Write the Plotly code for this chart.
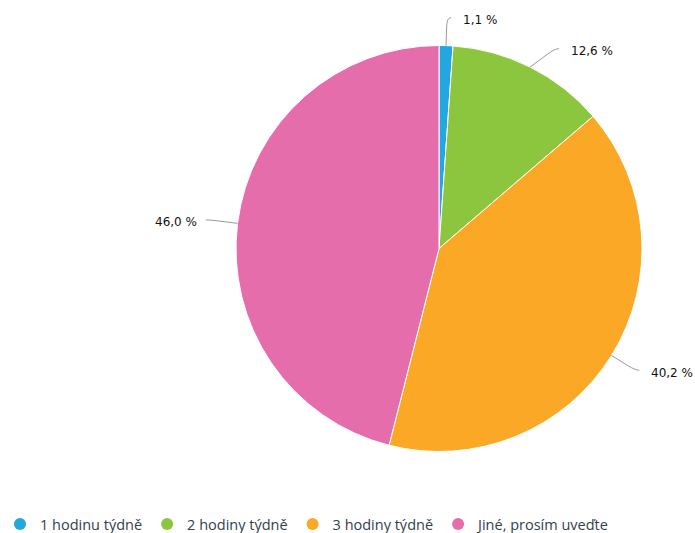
import math
import plotly.graph_objects as go

categories = ["1 hodinu týdně", "2 hodiny týdně", "3 hodiny týdně", "Jiné, prosím uveďte"]
values = [1.1, 12.6, 40.2, 46.0]
colors = ["#23a7e0", "#8cc63f", "#faa825", "#e56dab"]

W, H = 695, 533
MB = 34  # bottom margin reserved for the legend
cx, cy, r = 439.0, 248.5, 203.0
label_dist = 28.0
min_gap = 31.0

def px(x):
    return x / W

def py(y):
    return 1 - y / (H - MB)

fig = go.Figure()
fig.add_trace(go.Pie(
    labels=categories, values=values, sort=False, direction="clockwise", rotation=0,
    marker=dict(colors=colors, line=dict(color="#ffffff", width=1)),
    textinfo="none", hoverinfo="label+percent", showlegend=False,
    domain=dict(x=[px(cx - r), px(cx + r)], y=[py(cy + r), py(cy - r)]),
))

for name, col in zip(categories, colors):
    fig.add_trace(go.Scatter(x=[None], y=[None], mode="markers", name=name,
                             marker=dict(color=col, size=12, symbol="circle")))

total = sum(values)
info = []
cum = 0.0
for v in values:
    th = 2 * math.pi * (cum + v / 2) / total
    cum += v
    ex, ey = cx + r * math.sin(th), cy - r * math.cos(th)
    R = r + label_dist
    ly = cy - R * math.cos(th)
    side = 1 if math.sin(th) >= 0 else -1
    info.append(dict(v=v, th=th, ex=ex, ey=ey, ly=ly, side=side))

for side in (1, -1):
    items = sorted([d for d in info if d["side"] == side], key=lambda d: d["ly"])
    prev = None
    for d in items:
        if prev is not None and d["ly"] < prev + min_gap:
            d["ly"] = prev + min_gap
        prev = d["ly"]

shapes, annotations = [], []
R = r + label_dist
for d in info:
    dy = d["ly"] - cy
    dx = math.sqrt(max(R * R - dy * dy, 0))
    corner_x = cx + d["side"] * dx
    bx = d["ex"] + 0.7 * (corner_x - d["ex"])
    by = d["ey"] + 0.7 * (d["ly"] - d["ey"])
    end_x = corner_x + d["side"] * 4
    path = (f"M {px(d['ex'])} {py(d['ey'])} L {px(bx)} {py(by)} "
            f"Q {px(corner_x)} {py(d['ly'])} {px(end_x)} {py(d['ly'])}")
    shapes.append(dict(type="path", path=path, xref="paper", yref="paper",
                       line=dict(color="#999999", width=1)))
    txt = f"{d['v']:.1f}".replace(".", ",") + " %"
    tx = corner_x + (14 if d["side"] > 0 else -11)
    annotations.append(dict(text=txt, x=px(tx), y=py(d["ly"] + 2.5), xref="paper", yref="paper",
                            xanchor="left" if d["side"] > 0 else "right", yanchor="middle",
                            showarrow=False,
                            font=dict(family="DejaVu Sans", size=12, color="#111111")))

fig.update_layout(
    width=W, height=H,
    margin=dict(l=0, r=0, t=0, b=MB),
    paper_bgcolor="#ffffff", plot_bgcolor="#ffffff",
    xaxis=dict(visible=False), yaxis=dict(visible=False),
    shapes=shapes, annotations=annotations,
    legend=dict(orientation="h", xref="container", yref="container",
                x=0, xanchor="left", y=1 - 524 / H, yanchor="middle",
                font=dict(family="Open Sans", size=14.5, color="#33404f"),
                bgcolor="rgba(0,0,0,0)", itemclick=False),
)

fig.write_html("out.html")
